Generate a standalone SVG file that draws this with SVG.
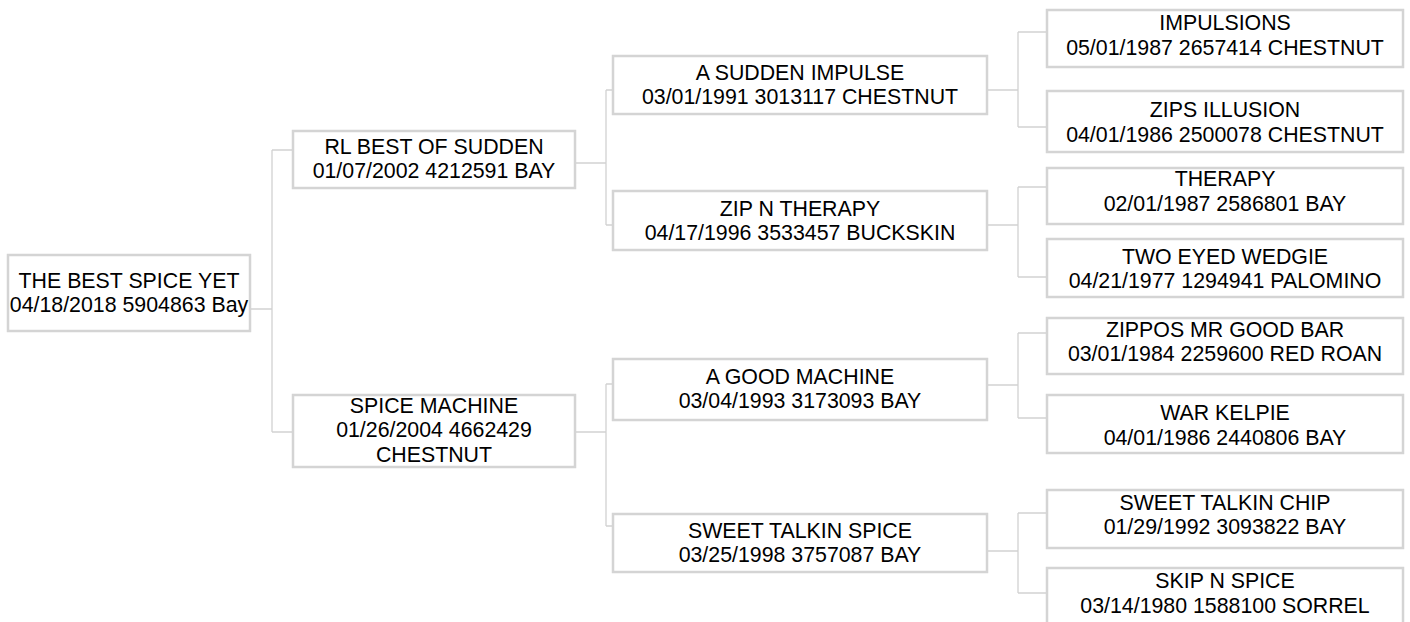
<svg xmlns="http://www.w3.org/2000/svg" width="1410" height="622" viewBox="0 0 1410 622">
<style>
.box{fill:#fff;stroke:#d4d4d4;stroke-width:2.5}
.c{fill:none;stroke:#d2d2d2;stroke-width:1.3}
text{font-family:"Liberation Sans",Arial,Helvetica,sans-serif;font-size:21.33px;fill:#000;text-anchor:middle}
</style>
<rect width="1410" height="622" fill="#fff"/>
<g id="connectors">
<path class="c" d="M251,309H272M272,150V432M272,150H292M272,432H292"/>
<path class="c" d="M575,163H606M606,90V225M606,90H612M606,225H612"/>
<path class="c" d="M575,432H606M606,384V526M606,384H612M606,526H612"/>
<path class="c" d="M987,90H1018M1018,32V127M1018,32H1046M1018,127H1046"/>
<path class="c" d="M987,225H1018M1018,187V277M1018,187H1046M1018,277H1046"/>
<path class="c" d="M987,385H1018M1018,333V418M1018,333H1046M1018,418H1046"/>
<path class="c" d="M987,551H1018M1018,513V593M1018,513H1046M1018,593H1046"/>
</g>
<g id="n0"><rect class="box" x="8" y="255" width="242" height="76"/><text x="129" y="288">THE BEST SPICE YET</text><text x="129" y="312">04/18/2018 5904863 Bay</text></g>
<g id="n1"><rect class="box" x="293" y="131" width="282" height="57"/><text x="434" y="154">RL BEST OF SUDDEN</text><text x="434" y="178">01/07/2002 4212591 BAY</text></g>
<g id="n2"><rect class="box" x="293" y="395" width="282" height="72"/><text x="434" y="413">SPICE MACHINE</text><text x="434" y="437">01/26/2004 4662429 </text><text x="434" y="462">CHESTNUT</text></g>
<g id="n3"><rect class="box" x="613" y="56" width="374" height="58"/><text x="800" y="80">A SUDDEN IMPULSE</text><text x="800" y="104">03/01/1991 3013117 CHESTNUT</text></g>
<g id="n4"><rect class="box" x="613" y="191" width="374" height="59"/><text x="800" y="216">ZIP N THERAPY</text><text x="800" y="240">04/17/1996 3533457 BUCKSKIN</text></g>
<g id="n5"><rect class="box" x="613" y="359" width="374" height="61"/><text x="800" y="384">A GOOD MACHINE</text><text x="800" y="408">03/04/1993 3173093 BAY</text></g>
<g id="n6"><rect class="box" x="613" y="514" width="374" height="58"/><text x="800" y="538">SWEET TALKIN SPICE</text><text x="800" y="562">03/25/1998 3757087 BAY</text></g>
<g id="n7"><rect class="box" x="1047" y="10" width="356" height="57"/><text x="1225" y="30">IMPULSIONS</text><text x="1225" y="55">05/01/1987 2657414 CHESTNUT</text></g>
<g id="n8"><rect class="box" x="1047" y="91" width="356" height="61"/><text x="1225" y="117">ZIPS ILLUSION</text><text x="1225" y="142">04/01/1986 2500078 CHESTNUT</text></g>
<g id="n9"><rect class="box" x="1047" y="168" width="356" height="56"/><text x="1225" y="186">THERAPY</text><text x="1225" y="211">02/01/1987 2586801 BAY</text></g>
<g id="n10"><rect class="box" x="1047" y="239" width="356" height="58"/><text x="1225" y="264">TWO EYED WEDGIE</text><text x="1225" y="288">04/21/1977 1294941 PALOMINO</text></g>
<g id="n11"><rect class="box" x="1047" y="318" width="356" height="56"/><text x="1225" y="337">ZIPPOS MR GOOD BAR</text><text x="1225" y="361">03/01/1984 2259600 RED ROAN</text></g>
<g id="n12"><rect class="box" x="1047" y="395" width="356" height="58"/><text x="1225" y="420">WAR KELPIE</text><text x="1225" y="445">04/01/1986 2440806 BAY</text></g>
<g id="n13"><rect class="box" x="1047" y="490" width="356" height="58"/><text x="1225" y="510">SWEET TALKIN CHIP</text><text x="1225" y="534">01/29/1992 3093822 BAY</text></g>
<g id="n14"><rect class="box" x="1047" y="568" width="356" height="70"/><text x="1225" y="588">SKIP N SPICE</text><text x="1225" y="613">03/14/1980 1588100 SORREL</text></g>
</svg>
